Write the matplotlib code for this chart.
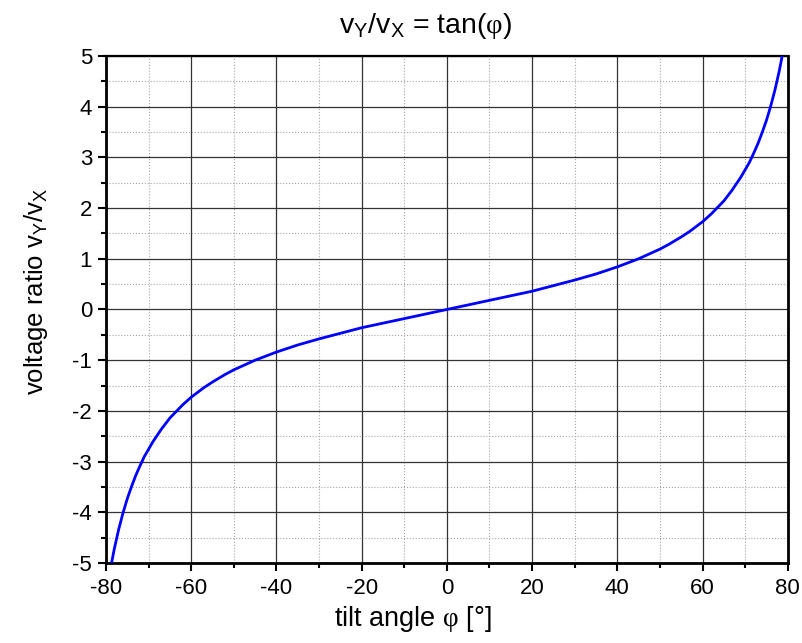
import matplotlib
matplotlib.use("Agg")
import matplotlib.pyplot as plt
from matplotlib.ticker import MultipleLocator

# tilt angle (deg) and voltage ratio
angle_deg = [-78.7, -78, -77, -76, -75, -74, -73, -72, -71, -69, -67, -65,
             -62, -60, -57, -55, -52, -50, -45, -40, -35, -30, -25, -20,
             -15, -10, -5, 0,
             5, 10, 15, 20, 25, 30, 35, 40, 45, 50, 52, 55, 57, 60,
             62, 65, 67, 69, 71, 72, 73, 74, 75, 76, 77, 78, 78.7]
ratio = [-5.0, -4.70, -4.33, -4.01, -3.73, -3.49, -3.27, -3.08, -2.90, -2.61,
         -2.36, -2.14, -1.88, -1.73, -1.54, -1.43, -1.28, -1.19, -1.00, -0.84,
         -0.70, -0.58, -0.47, -0.36, -0.27, -0.18, -0.09, 0.0,
         0.09, 0.18, 0.27, 0.36, 0.47, 0.58, 0.70, 0.84, 1.00, 1.19, 1.28,
         1.43, 1.54, 1.73, 1.88, 2.14, 2.36, 2.61, 2.90, 3.08, 3.27, 3.49,
         3.73, 4.01, 4.33, 4.70, 5.0]

x_ticks = [-80, -60, -40, -20, 0, 20, 40, 60, 80]
y_ticks = [-5, -4, -3, -2, -1, 0, 1, 2, 3, 4, 5]

plt.rcParams['font.family'] = ['Liberation Sans', 'DejaVu Sans']
plt.rcParams['axes.unicode_minus'] = False
plt.rcParams['mathtext.fontset'] = 'custom'
plt.rcParams['mathtext.rm'] = 'Liberation Sans'
plt.rcParams['mathtext.sf'] = 'Liberation Serif'

W, H = 803, 643
fig = plt.figure(figsize=(W / 100, H / 100), dpi=100)
ax = fig.add_axes([0.132, 0.1244, 0.849, 0.7886])

ax.plot(angle_deg, ratio, color='#0000ff', linewidth=2.0, zorder=3)

ax.set_xlim(-80, 80)
ax.set_ylim(-5, 5)
ax.set_xticks(x_ticks)
ax.set_yticks(y_ticks)
ax.xaxis.set_minor_locator(MultipleLocator(10))
ax.yaxis.set_minor_locator(MultipleLocator(0.5))

ax.grid(which='major', color='#333333', linestyle='-', linewidth=0.9)
ax.grid(which='minor', color='#a8a8a8', linestyle=':', linewidth=0.8)
ax.set_axisbelow(True)

ax.tick_params(which='both', direction='out', top=False, right=False,
               labelsize=16, width=1.5)
ax.tick_params(which='major', length=6)
ax.tick_params(axis='x', which='major', pad=5)
ax.tick_params(axis='y', which='major', pad=4)
ax.tick_params(which='minor', length=3.5)

for side in ['left', 'bottom', 'right']:
    ax.spines[side].set_linewidth(2.0)
ax.spines['top'].set_linewidth(1.6)

# title and axis labels placed like the original (slightly left of centre)
fig.text(425 / W, 1 - 33 / H,
         'v$_\\mathrm{Y}$/v$_\\mathrm{X}$ = tan($\\mathsf{φ}$)',
         fontsize=20.5, ha='center', va='baseline')
fig.text(413 / W, 1 - 626 / H, 'tilt angle $\\mathsf{φ}$ [°]',
         fontsize=19.5, ha='center', va='baseline')
fig.text(43 / W, 1 - 291 / H, 'voltage ratio v$_\\mathrm{Y}$/v$_\\mathrm{X}$',
         fontsize=18.5, rotation=90, rotation_mode='anchor',
         ha='center', va='baseline')

plt.savefig('out.png', dpi=100)
plt.close()
